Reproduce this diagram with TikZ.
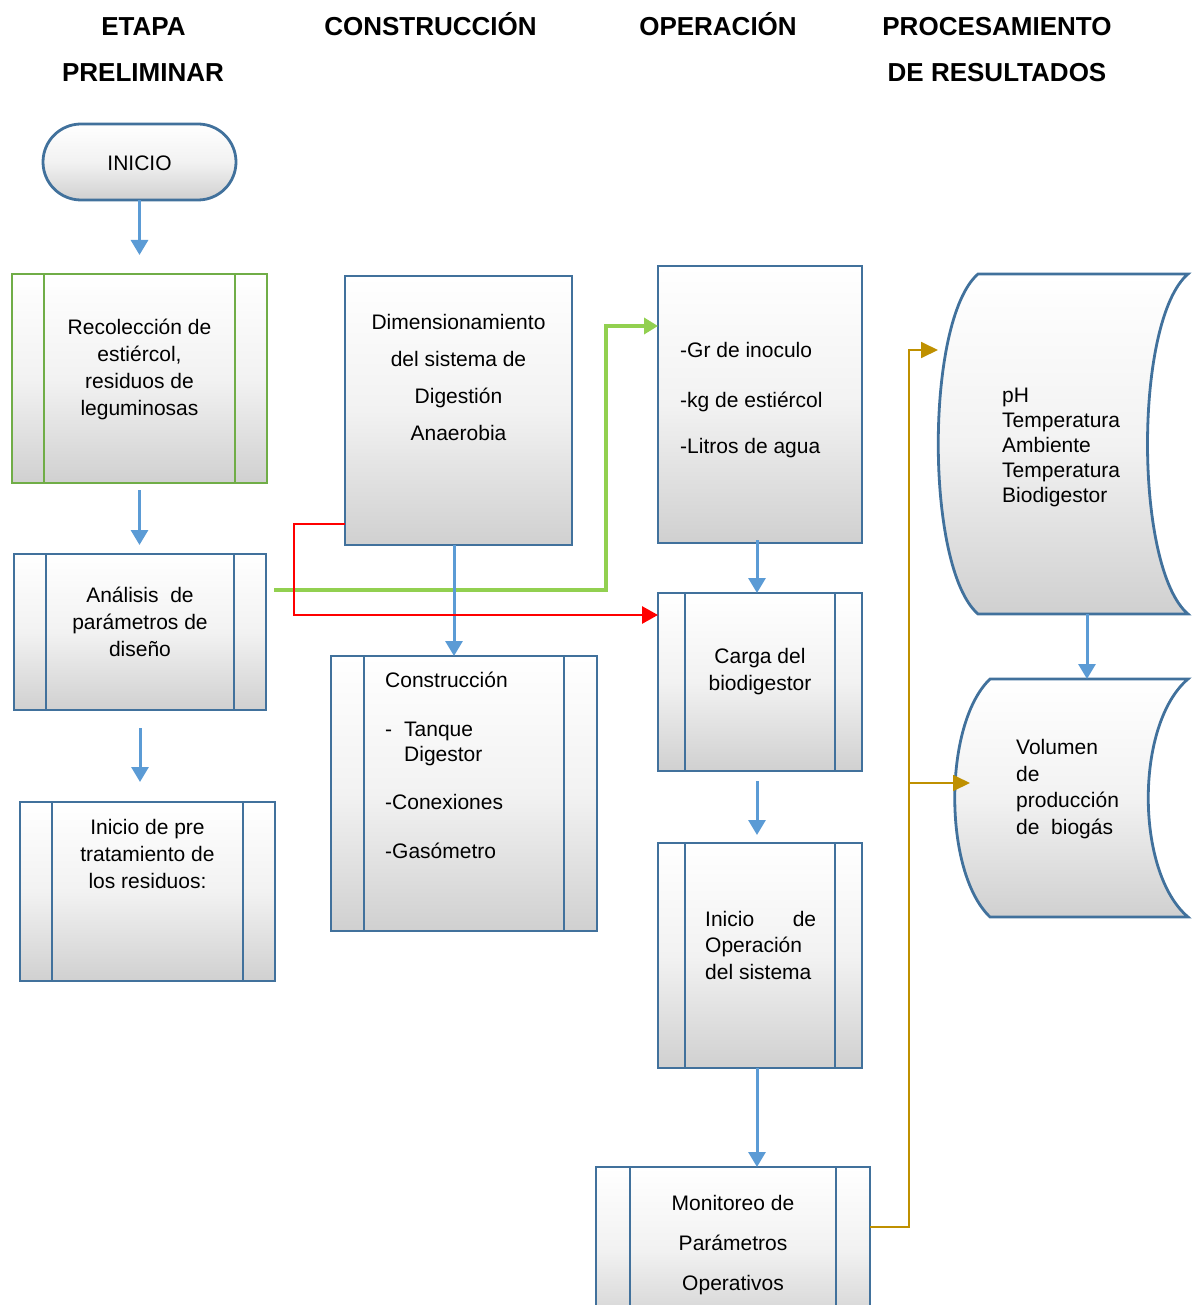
\documentclass[tikz,border=0pt]{standalone}
\usepackage{fontspec}
\setmainfont{Liberation Sans}
\usetikzlibrary{arrows.meta}

\definecolor{boxblue}{RGB}{65,113,156}
\definecolor{boxgreen}{RGB}{112,173,71}
\definecolor{arrowblue}{RGB}{91,155,213}
\definecolor{linegreen}{RGB}{146,208,80}
\definecolor{linegold}{RGB}{191,144,0}
\definecolor{shadegray}{RGB}{208,208,208}
\definecolor{midgray}{RGB}{242,242,242}

% inner bars of a predefined-process box
\newcommand\sublines[3][boxblue]{%
  \draw[line width=2.8pt,draw=#1]
    ([xshift=#3]#2.north west) -- ([xshift=#3]#2.south west)
    ([xshift=-#3]#2.north east) -- ([xshift=-#3]#2.south east);}

\tikzset{
  box/.style={draw=boxblue, line width=2.8pt, top color=white,
    bottom color=shadegray, middle color=midgray,
    inner sep=0pt, outer sep=0pt},
  shapefill/.style={draw=boxblue, line width=2.8pt, top color=white,
    bottom color=shadegray, middle color=midgray},
  frame/.style={inner sep=0pt, outer sep=0pt},
  arr/.style={draw=arrowblue, line width=3pt,
    -{Triangle[width=17pt,length=15pt]}},
  redarr/.style={draw=red, line width=2.8pt,
    -{Triangle[width=17pt,length=16pt]}},
  greenarr/.style={draw=linegreen, line width=4pt,
    -{Triangle[width=16pt,length=14pt]}},
  goldarr/.style={draw=linegold, line width=1.8pt,
    -{Triangle[width=16pt,length=17pt]}},
  hdr/.style={font=\bfseries\fontsize{26}{30}\selectfont, inner sep=0pt, anchor=base},
  txt/.style={font=\fontsize{21}{27}\selectfont, align=center, inner sep=0pt},
}

\begin{document}
\begin{tikzpicture}[x=1pt,y=-1pt]
\useasboundingbox (0,0) rectangle (1194,1305);
\clip (0,0) rectangle (1194,1305);

% column headers
\node[hdr] (h-etapa) at (143.5,36) {ETAPA};
\node[hdr] (h-prelim) at (143,82) {PRELIMINAR};
\node[hdr] (h-constr) at (430.5,36) {CONSTRUCCIÓN};
\node[hdr] (h-oper) at (718,36) {OPERACIÓN};
\node[hdr] (h-proc) at (997,36) {PROCESAMIENTO};
\node[hdr] (h-result) at (997,82) {DE RESULTADOS};

% first column
\node[box, rounded corners=38pt, minimum width=193pt, minimum height=76pt] (inicio) at (139.5,162) {};
\node[box, draw=boxgreen, minimum width=255pt, minimum height=209pt] (recol) at (139.5,378.5) {};
\sublines[boxgreen]{recol}{32pt}
\node[box, minimum width=252pt, minimum height=156pt] (analisis) at (140,632) {};
\sublines{analisis}{32pt}
\node[box, minimum width=255pt, minimum height=179pt] (pre) at (147.5,891.5) {};
\sublines{pre}{32pt}

% second column
\node[box, minimum width=227pt, minimum height=269pt] (dimen) at (458.5,410.5) {};
\node[box, minimum width=266pt, minimum height=275pt] (constr) at (464,793.5) {};
\sublines{constr}{33pt}

% third column
\node[box, minimum width=204pt, minimum height=277pt] (grbox) at (760,404.5) {};
\node[box, minimum width=204pt, minimum height=178pt] (carga) at (760,682) {};
\sublines{carga}{27pt}
\node[box, minimum width=204pt, minimum height=225pt] (iniop) at (760,955.5) {};
\sublines{iniop}{27pt}
\node[box, minimum width=274pt, minimum height=163pt] (monit) at (733,1248.5) {};
\sublines{monit}{34pt}

% fourth column: stored-data shapes
\node[frame, minimum width=250pt, minimum height=340pt] (cyl1) at (1063,444) {};
\path[shapefill] (978,274) -- (1188,274)
  .. controls (1134,320) and (1134,568) .. (1188,614) -- (978,614)
  .. controls (925,568) and (925,320) .. (978,274) -- cycle;
\node[frame, minimum width=233pt, minimum height=238pt] (cyl2) at (1071.5,798) {};
\path[shapefill] (990,679) -- (1188,679)
  .. controls (1135,724) and (1135,872) .. (1188,917) -- (990,917)
  .. controls (943,872) and (943,724) .. (990,679) -- cycle;

% connectors
\draw[arr, shorten >=19pt] (inicio.south) -- (inicio.south |- recol.north);
\draw[arr, shorten <=7pt, shorten >=9pt] (recol.south) -- (recol.south |- analisis.north);
\draw[arr, shorten <=18pt, shorten >=20pt] (analisis.south) -- (analisis.south |- pre.north);
\draw[greenarr] ([xshift=8pt,yshift=-36pt]analisis.north east) -- ++(332,0)
  |- ([yshift=-60pt]grbox.north west);
\draw[arr] ([xshift=-4.5pt]dimen.south) -- ([xshift=-4.5pt]dimen.south |- constr.north);
\draw[redarr] ([yshift=21pt]dimen.south west) -- ++(-51,0)
  |- ([yshift=-22pt]carga.north west);
\draw[arr, shorten <=-3pt] ([xshift=-3pt]grbox.south) -- ([xshift=-3pt]grbox.south |- carga.north);
\draw[arr, shorten <=10pt, shorten >=8pt] ([xshift=-3pt]carga.south) -- ([xshift=-3pt]carga.south |- iniop.north);
\draw[arr] ([xshift=-3pt]iniop.south) -- ([xshift=-3pt]iniop.south |- monit.north);
\draw[arr] ([xshift=24pt]cyl1.south) -- ([xshift=24pt]cyl1.south |- cyl2.north);
\coordinate (cyl2tip) at ([xshift=15pt,yshift=-104pt]cyl2.north west);
\draw[goldarr] ([yshift=-60pt]monit.north east) -- ++(39,0) coordinate (gk)
  |- ([yshift=-76pt]cyl1.north west);
\draw[goldarr] (gk |- cyl2tip) -- (cyl2tip);

% texts
\node[txt] (t-inicio) at (139.5,163) {INICIO};
\node[txt] (t-recol) at (139.5,369) {Recolección de\\estiércol,\\residuos de\\leguminosas};
\node[txt] (t-analisis) at (140,622) {Análisis\ \ de\\parámetros de\\diseño};
\node[txt] (t-pre) at (147.5,854) {Inicio de pre\\tratamiento de\\los residuos:};
\node[txt, font=\fontsize{21}{37}\selectfont] (t-dimen) at (458.5,377) {Dimensionamiento\\del sistema de\\Digestión\\Anaerobia};
\node[txt, align=left, anchor=west, font=\fontsize{21}{25}\selectfont] (t-constr) at (385,765.5)
  {Construcción\\[24pt]\makebox[19pt][l]{-}Tanque\\\hspace*{19pt}Digestor\\[23pt]-Conexiones\\[24pt]-Gasómetro};
\node[txt, align=left, anchor=west, font=\fontsize{21}{25}\selectfont] (t-gr) at (680,400)
  {-Gr de inoculo\\[25pt]-kg de estiércol\\[21pt]-Litros de agua};
\node[txt] (t-carga) at (760,672) {Carga del\\biodigestor};
\node[txt, align=left, anchor=west, font=\fontsize{21}{26.5}\selectfont] (t-iniop) at (705,945)
  {\makebox[111pt][s]{Inicio de}\\Operación\\del sistema};
\node[txt, font=\fontsize{21}{40}\selectfont] (t-monit) at (733,1245) {Monitoreo de\\Parámetros\\Operativos};
\node[txt, align=left, anchor=west, font=\fontsize{21}{25}\selectfont] (t-param) at (1002,447)
  {pH\\Temperatura\\Ambiente\\Temperatura\\Biodigestor};
\node[txt, align=left, anchor=west, font=\fontsize{21}{26.7}\selectfont] (t-vol) at (1016,789)
  {Volumen\\de\\producción\\de\ \ biogás};
\end{tikzpicture}
\end{document}
